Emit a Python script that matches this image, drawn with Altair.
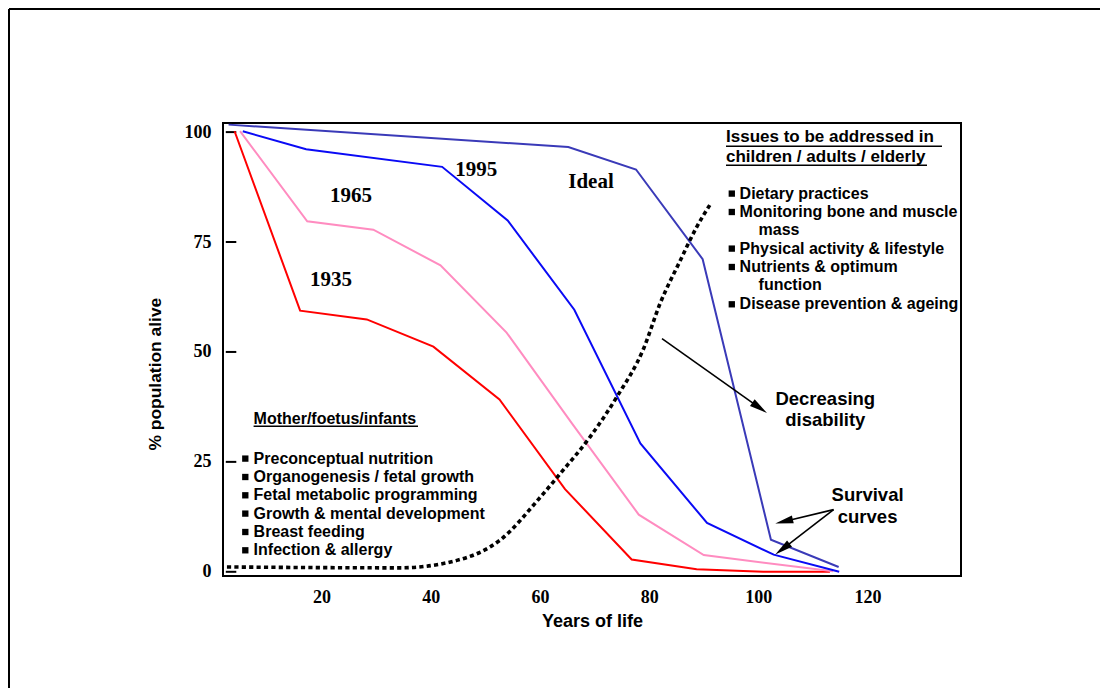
import math
import altair as alt
import pandas as pd

# ---------------- chart values ----------------
series_names = ["1935", "1965", "1995", "Ideal"]
series_colors = ["#FF0000", "#FF8CC0", "#0A0AF5", "#3A3AB8"]

age_1935 = [4.1, 16.1, 28.3, 40.5, 52.6, 64.6, 76.8, 88.7, 100.9, 113.1]
pct_1935 = [100.2, 59.4, 57.4, 51.2, 39.2, 18.8, 2.8, 0.6, 0.0, 0.0]

age_1965 = [5.1, 17.4, 29.5, 41.8, 53.9, 65.9, 78.1, 90.0, 113.7]
pct_1965 = [100.2, 79.7, 77.8, 69.7, 54.4, 33.7, 13.0, 3.8, 0.1]

age_1995 = [5.6, 17.2, 42.1, 54.1, 66.3, 78.4, 90.6, 102.8, 114.8]
pct_1995 = [100.2, 96.1, 92.1, 79.9, 59.6, 29.2, 11.1, 3.9, 0.0]

age_ideal = [3.0, 65.2, 77.6, 89.8, 102.3, 114.7]
pct_ideal = [101.7, 96.6, 91.5, 71.1, 7.3, 1.1]

age_disability = [2.7, 34.4, 44.8, 52.7, 60.1, 63.7, 69.2, 74.1, 79.0, 82.0, 85.7, 88.7, 91.1]
pct_disability = [1.1, 0.9, 2.6, 7.2, 17.0, 22.3, 30.7, 39.8, 50.8, 61.0, 70.8, 78.4, 83.4]

x_ticks = [20, 40, 60, 80, 100, 120]
y_ticks = [0, 25, 50, 75, 100]

x_title = "Years of life"
y_title = "% population alive"

left_heading = "Mother/foetus/infants"
left_items = [
    "Preconceptual nutrition",
    "Organogenesis / fetal growth",
    "Fetal metabolic programming",
    "Growth & mental development",
    "Breast feeding",
    "Infection & allergy",
]
right_heading = ["Issues to be addressed in", "children / adults / elderly"]
right_items = [
    "Dietary practices",
    "Monitoring bone and muscle",
    "mass",
    "Physical activity & lifestyle",
    "Nutrients & optimum",
    "function",
    "Disease prevention & ageing",
]
right_bullet = [True, True, False, True, True, False, True]

disability_label = ["Decreasing", "disability"]
survival_label = ["Survival", "curves"]

# ---------------- layout (positions / sizes / styles) ----------------
W, H = 738, 453
X_DOM = [1.98, 137.1]
Y_DOM = [-0.955, 102.07]
PLOT_LEFT, PLOT_TOP = 222.7, 122.7


def gx(px):
    return X_DOM[0] + (px - PLOT_LEFT) * (X_DOM[1] - X_DOM[0]) / W


def gy(py):
    return Y_DOM[1] - (py - PLOT_TOP) * (Y_DOM[1] - Y_DOM[0]) / H


SERIF = "Liberation Serif"
SANS = "Liberation Sans"

xscale = alt.Scale(domain=X_DOM, nice=False, zero=False)
yscale = alt.Scale(domain=Y_DOM, nice=False, zero=False)

xaxis = alt.Axis(
    values=x_ticks, title=x_title, grid=False, ticks=False, tickSize=0, domain=False,
    labelFont=SERIF, labelFontWeight="bold", labelFontSize=18, labelColor="black",
    labelBaseline="middle", labelPadding=21,
    titleFont=SANS, titleFontWeight="bold", titleFontSize=18, titleColor="black",
    titleBaseline="middle", titleY=45,
)
yaxis = alt.Axis(
    values=y_ticks, title=y_title, grid=False, ticks=False, tickSize=0, domain=False,
    labelFont=SERIF, labelFontWeight="bold", labelFontSize=18, labelColor="black",
    labelPadding=12,
    titleFont=SANS, titleFontWeight="bold", titleFontSize=17.4, titleColor="black",
    titleAngle=270, titleAlign="center", titleBaseline="middle",
    titleX=-67.7, titleY=250.6,
)


def X(field):
    return alt.X(field, type="quantitative", scale=xscale, axis=xaxis)


def Y(field):
    return alt.Y(field, type="quantitative", scale=yscale, axis=yaxis)


# ---------------- survival curves ----------------
rows = []
for name, ages, pcts in [
    ("1935", age_1935, pct_1935),
    ("1965", age_1965, pct_1965),
    ("1995", age_1995, pct_1995),
    ("Ideal", age_ideal, pct_ideal),
]:
    for i, (a, p) in enumerate(zip(ages, pcts)):
        rows.append({"series": name, "x": a, "y": p, "o": i})
curves_df = pd.DataFrame(rows)

curves = alt.Chart(curves_df).mark_line(strokeWidth=2).encode(
    x=X("x"),
    y=Y("y"),
    color=alt.Color("series:N", scale=alt.Scale(domain=series_names, range=series_colors), legend=None),
    order="o:Q",
)

disab_df = pd.DataFrame({"x": age_disability, "y": pct_disability})
disability = alt.Chart(disab_df).mark_line(
    color="black", strokeWidth=3.6, strokeDash=[4.2, 3.2], interpolate="monotone"
).encode(x=X("x"), y=Y("y"))

# inward y ticks
tick_df = pd.DataFrame({"y": y_ticks})
yticks = alt.Chart(tick_df).mark_rule(color="black", strokeWidth=2).encode(
    y=Y("y"), x=alt.value(2.8), x2=alt.value(13.3)
)

# outer slide frame (top and left edges)
one = pd.DataFrame({"a": [0]})
frame_top = alt.Chart(one).mark_rule(color="black", strokeWidth=2).encode(
    x=alt.value(-214), x2=alt.value(877), y=alt.value(-114)
)
frame_left = alt.Chart(one).mark_rule(color="black", strokeWidth=2).encode(
    x=alt.value(-214), y=alt.value(-114), y2=alt.value(565)
)

# ---------------- text annotations ----------------
year_pos = [(330.7, 279.3), (350.7, 196.0), (476.0, 169.3), (590.7, 181.7)]
year_df = pd.DataFrame({
    "t": series_names,
    "x": [gx(p[0]) for p in year_pos],
    "y": [gy(p[1]) for p in year_pos],
})
year_text = alt.Chart(year_df).mark_text(
    font=SERIF, fontWeight="bold", fontSize=21, color="black", align="center", baseline="middle"
).encode(x=X("x"), y=Y("y"), text="t:N")

# left block
left_rows = [{"t": left_heading, "x": gx(253.3), "y": gy(419.0), "s": 16}]
left_y = [458.3, 476.7, 495.0, 513.3, 531.7, 550.0]
for t, py in zip(left_items, left_y):
    left_rows.append({"t": t, "x": gx(253.3), "y": gy(py), "s": 16})
# right block
right_rows = []
for t, py in zip(right_heading, [136.7, 156.7]):
    right_rows.append({"t": t, "x": gx(725.7), "y": gy(py), "s": 17})
right_y = [193.3, 211.7, 230.0, 248.3, 266.7, 285.0, 304.0]
for t, py, b in zip(right_items, right_y, right_bullet):
    right_rows.append({"t": t, "x": gx(739.3 if b else 758.3), "y": gy(py), "s": 16})
block_df = pd.DataFrame(left_rows + right_rows)
block_text = alt.Chart(block_df).mark_text(
    font=SANS, fontWeight="bold", color="black", align="left", baseline="middle"
).encode(x=X("x"), y=Y("y"), text="t:N", size=alt.Size("s:Q", scale=None))

# bullets
bul = [(245.0, py) for py in left_y] + [
    (731.5, py) for py, b in zip(right_y, right_bullet) if b
]
bullet_df = pd.DataFrame({"x": [gx(p[0]) for p in bul], "y": [gy(p[1]) for p in bul]})
bullets = alt.Chart(bullet_df).mark_square(size=40, color="black", opacity=1).encode(
    x=X("x"), y=Y("y")
)

# underlines
ul = [(253.3, 417.7, 426.0), (725.7, 941.7, 146.0), (725.7, 926.7, 165.0)]
ul_df = pd.DataFrame({
    "x": [gx(u[0]) for u in ul],
    "x2": [gx(u[1]) for u in ul],
    "y": [gy(u[2]) for u in ul],
})
underlines = alt.Chart(ul_df).mark_rule(color="black", strokeWidth=1.6).encode(
    x=X("x"), x2=alt.X2("x2"), y=Y("y")
)

# arrow labels
lab_pos = [(825.0, 398.3), (825.0, 420.0), (867.3, 495.0), (867.3, 516.7)]
lab_df = pd.DataFrame({
    "t": disability_label + survival_label,
    "x": [gx(p[0]) for p in lab_pos],
    "y": [gy(p[1]) for p in lab_pos],
})
lab_text = alt.Chart(lab_df).mark_text(
    font=SANS, fontWeight="bold", fontSize=18.5, color="black", align="center", baseline="middle"
).encode(x=X("x"), y=Y("y"), text="t:N")

# arrows
arrow_start = [(661.7, 338.3), (833.3, 509.3), (833.3, 509.3)]
arrow_tip = [(766.7, 412.7), (775.0, 523.3), (775.0, 554.3)]
HEAD = 9.0
shaft_rows, head_rows = [], []
for (sx, sy), (tx, ty) in zip(arrow_start, arrow_tip):
    dxp, dyp = tx - sx, ty - sy
    L = math.hypot(dxp, dyp)
    ux, uy = dxp / L, dyp / L
    cx, cy = tx - HEAD * ux, ty - HEAD * uy
    shaft_rows.append({"x": gx(sx), "y": gy(sy), "x2": gx(cx), "y2": gy(cy)})
    head_rows.append({"x": gx(cx), "y": gy(cy), "ang": math.degrees(math.atan2(dyp, dxp)) % 360})
shafts = alt.Chart(pd.DataFrame(shaft_rows)).mark_rule(color="black", strokeWidth=1.6).encode(
    x=X("x"), y=Y("y"), x2=alt.X2("x2"), y2=alt.Y2("y2")
)
heads = alt.Chart(pd.DataFrame(head_rows)).mark_point(
    shape="M-1,-0.45L1,0L-1,0.45Z", filled=True, size=324, color="black", opacity=1, strokeWidth=0
).encode(x=X("x"), y=Y("y"), angle=alt.Angle("ang:Q", scale=None))

chart = alt.layer(
    frame_top, frame_left, yticks, curves, disability, year_text, block_text, bullets,
    underlines, lab_text, shafts, heads,
).properties(width=W, height=H, padding=0).configure_view(
    stroke="black", strokeWidth=2
)

chart.save("out.html", embed_options={"renderer": "svg", "actions": False})
